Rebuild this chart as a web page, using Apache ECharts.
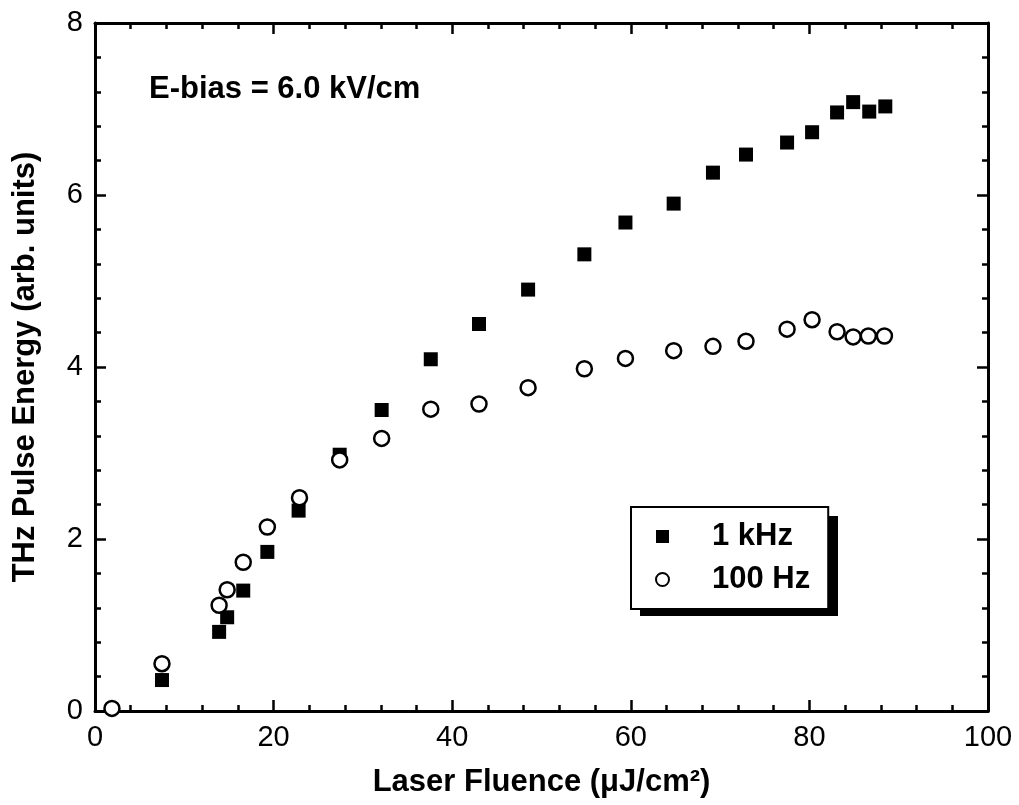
<!DOCTYPE html>
<html>
<head>
<meta charset="utf-8">
<script src="https://cdn.jsdelivr.net/npm/echarts@6/dist/echarts.min.js"></script>
<style>
  html, body { margin: 0; padding: 0; background: #fff; }
  #main { width: 1019px; height: 805px; }
</style>
</head>
<body>
<div id="main"></div>
<script>
// 1 kHz (filled squares)
var fluence1k = [7.5, 13.9, 14.8, 16.6, 19.3, 22.8, 27.4, 32.1, 37.6, 43.0, 48.5, 54.8, 59.4, 64.8, 69.2, 72.9, 77.5, 80.3, 83.1, 84.9, 86.7, 88.5];
var energy1k  = [0.36, 0.92, 1.09, 1.40, 1.85, 2.33, 2.98, 3.50, 4.09, 4.50, 4.90, 5.31, 5.68, 5.90, 6.26, 6.47, 6.61, 6.73, 6.96, 7.08, 6.97, 7.03];
// 100 Hz (open circles)
var fluence100 = [1.9, 7.5, 13.9, 14.8, 16.6, 19.3, 22.9, 27.4, 32.1, 37.6, 43.0, 48.5, 54.8, 59.4, 64.8, 69.2, 72.9, 77.5, 80.3, 83.1, 84.9, 86.6, 88.4];
var energy100  = [0.03, 0.55, 1.23, 1.41, 1.73, 2.14, 2.48, 2.92, 3.17, 3.51, 3.57, 3.76, 3.98, 4.10, 4.19, 4.24, 4.30, 4.44, 4.55, 4.41, 4.35, 4.36, 4.36];

var seriesNames = ['1 kHz', '100 Hz'];
var xRange = [0, 100, 20];
var yRange = [0, 8, 2];

function pairs(xs, ys) {
    var out = [];
    for (var i = 0; i < xs.length; i++) out.push([xs[i], ys[i]]);
    return out;
}

var font = 'Liberation Sans, Arial, sans-serif';

function axisBase(showLabel) {
    return {
        axisLine: { show: true, onZero: false, lineStyle: { color: '#000', width: 3 } },
        axisTick: { show: true, inside: true, length: 11, lineStyle: { color: '#000', width: 2.5 } },
        minorTick: { show: true, splitNumber: 5, length: 6, lineStyle: { color: '#000', width: 2.5 } },
        splitLine: { show: false },
        axisLabel: { show: showLabel, color: '#000', fontSize: 29, fontFamily: font, margin: 12 }
    };
}

var myChart = echarts.init(document.getElementById('main'));

var xBottom = Object.assign(axisBase(true), {
    type: 'value', position: 'bottom', min: xRange[0], max: xRange[1], interval: xRange[2],
    name: 'Laser Fluence (μJ/cm²)', nameLocation: 'middle', nameGap: 56,
    nameTextStyle: { color: '#000', fontSize: 31, fontWeight: 'bold', fontFamily: font }
});
var xTop = Object.assign(axisBase(false), {
    type: 'value', position: 'top', min: xRange[0], max: xRange[1], interval: xRange[2]
});
var yLeft = Object.assign(axisBase(true), {
    type: 'value', position: 'left', min: yRange[0], max: yRange[1], interval: yRange[2],
    name: 'THz Pulse Energy (arb. units)', nameLocation: 'middle', nameGap: 54,
    nameTextStyle: { color: '#000', fontSize: 31, fontWeight: 'bold', fontFamily: font }
});
var yRight = Object.assign(axisBase(false), {
    type: 'value', position: 'right', min: yRange[0], max: yRange[1], interval: yRange[2]
});

var option = {
    backgroundColor: '#fff',
    animation: false,
    title: {
        text: 'E-bias = 6.0 kV/cm',
        left: 144, top: 69,
        textStyle: { color: '#000', fontSize: 31, fontWeight: 'bold', fontFamily: font }
    },
    grid: { left: 95, right: 31, top: 23, bottom: 94 },
    // drop shadow behind the legend box
    graphic: [{
        type: 'rect', z: 1,
        shape: { x: 640, y: 516, width: 198, height: 100 },
        style: { fill: '#000' }
    }],
    legend: {
        orient: 'vertical',
        z: 10,
        left: 631, top: 507,
        padding: [14, 18, 14, 24],
        itemGap: 12,
        itemWidth: 13, itemHeight: 13,
        backgroundColor: '#fff',
        borderColor: '#000',
        borderWidth: 2,
        textStyle: { color: '#000', fontSize: 31, fontWeight: 'bold', fontFamily: font, padding: [0, 0, 0, 38] },
        data: seriesNames
    },
    xAxis: [xBottom, xTop],
    yAxis: [yLeft, yRight],
    series: [
        {
            name: seriesNames[0],
            type: 'scatter',
            xAxisIndex: 0, yAxisIndex: 0,
            symbol: 'rect',
            symbolSize: 14,
            itemStyle: { color: '#000', opacity: 1 },
            data: pairs(fluence1k, energy1k)
        },
        {
            name: seriesNames[1],
            type: 'scatter',
            xAxisIndex: 0, yAxisIndex: 0,
            symbol: 'circle',
            symbolSize: 15,
            itemStyle: { color: '#fff', borderColor: '#000', borderWidth: 2.5, opacity: 1 },
            data: pairs(fluence100, energy100)
        }
    ]
};

myChart.setOption(option);
</script>
</body>
</html>
